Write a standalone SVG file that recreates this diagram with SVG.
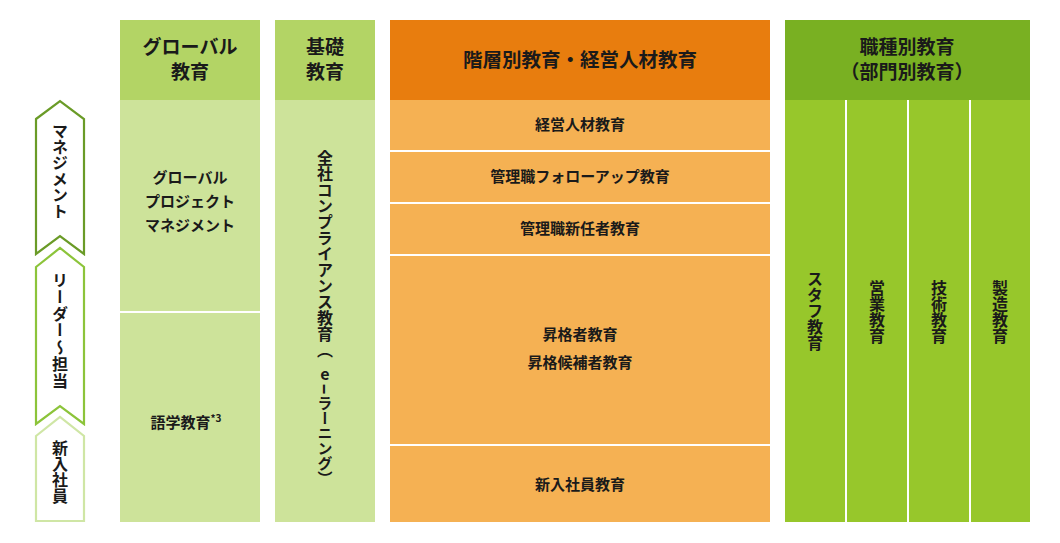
<svg xmlns="http://www.w3.org/2000/svg" width="1060" height="543" viewBox="0 0 1060 543">
<style>
text{font-family:"Noto Sans CJK JP","Noto Sans",sans-serif;fill:#1a1a1a}
.h{font-size:19px;font-weight:700;text-anchor:middle}
.b{font-size:15px;font-weight:700;text-anchor:middle}
.v{font-size:16px;font-weight:700;writing-mode:vertical-rl;text-orientation:upright;text-anchor:start}
.gh{fill:#b3d465}.gb{fill:#cde39a}
.oh{fill:#e87d0e}.ob{fill:#f5b153}
.ph{fill:#79b022}.pb{fill:#97c72b}
.sep{stroke:#fff;stroke-width:2}
.arr{fill:#fff;stroke-width:2.2}
</style>
<rect width="1060" height="543" fill="#fff"/>
<g id="levels">
<g id="lvl-management">
<polygon class="arr" stroke="#6a9b27" points="36,119 60,101 84,119 84,254 60,236 36,254"/>
<text class="v" x="60" y="123">マネジメント</text>
</g>
<g id="lvl-leader">
<polygon class="arr" stroke="#8cc43a" points="36,267 60,248 84,267 84,424 60,406 36,424"/>
<text class="v" x="60" y="272" style="letter-spacing:0.8px">リーダー～担当</text>
</g>
<g id="lvl-new">
<polygon class="arr" stroke="#cfe6a5" points="36,436 60,417 84,436 84,521 36,521"/>
<text class="v" x="60" y="440">新入社員</text>
</g>
</g>
<g id="global">
<rect class="gh" x="120" y="20" width="140" height="80"/>
<rect class="gb" x="120" y="100" width="140" height="422"/>
<line class="sep" x1="120" y1="312" x2="260" y2="312"/>
<text class="h" x="190" y="54"><tspan x="190">グローバル</tspan><tspan x="190" dy="25">教育</tspan></text>
<text class="b" x="190" y="183"><tspan x="190">グローバル</tspan><tspan x="190" dy="24">プロジェクト</tspan><tspan x="190" dy="24">マネジメント</tspan></text>
<text class="b" x="186" y="428">語学教育<tspan font-size="10" dy="-6">*3</tspan></text>
</g>
<g id="basic">
<rect class="gh" x="275" y="20" width="100" height="80"/>
<rect class="gb" x="275" y="100" width="100" height="422"/>
<text class="h" x="325" y="54"><tspan x="325">基礎</tspan><tspan x="325" dy="25">教育</tspan></text>
<text class="v" x="325" y="150">全社コンプライアンス教育（</text>
<text class="b" x="325" y="380" style="font-size:16px">e</text>
<text class="b" transform="translate(325,389) rotate(90) scale(2.2,1.3)" style="font-size:15px" dy="5">-</text>
<text class="v" x="325" y="396" style="font-size:15px">ラーニング）</text>
</g>
<g id="hierarchy">
<rect class="oh" x="390" y="20" width="380" height="80"/>
<rect class="ob" x="390" y="100" width="380" height="422"/>
<line class="sep" x1="390" y1="151" x2="770" y2="151"/>
<line class="sep" x1="390" y1="203" x2="770" y2="203"/>
<line class="sep" x1="390" y1="255" x2="770" y2="255"/>
<line class="sep" x1="390" y1="445" x2="770" y2="445"/>
<text class="h" x="580" y="67" style="font-size:19.5px">階層別教育・経営人材教育</text>
<text class="b" x="580" y="130">経営人材教育</text>
<text class="b" x="580" y="182">管理職フォローアップ教育</text>
<text class="b" x="580" y="234">管理職新任者教育</text>
<text class="b" x="580" y="340"><tspan x="580">昇格者教育</tspan><tspan x="580" dy="28">昇格候補者教育</tspan></text>
<text class="b" x="580" y="490">新入社員教育</text>
</g>
<g id="job">
<rect class="ph" x="785" y="20" width="245" height="80"/>
<rect class="pb" x="785" y="100" width="245" height="422"/>
<line class="sep" x1="846" y1="100" x2="846" y2="522"/>
<line class="sep" x1="908" y1="100" x2="908" y2="522"/>
<line class="sep" x1="970" y1="100" x2="970" y2="522"/>
<text class="h" x="907" y="54"><tspan x="907">職種別教育</tspan><tspan x="907" dy="25">（部門別教育）</tspan></text>
<text class="v" x="815" y="271">スタフ教育</text>
<text class="v" x="877" y="280">営業教育</text>
<text class="v" x="939" y="280">技術教育</text>
<text class="v" x="1000" y="280">製造教育</text>
</g>
<g id="connectors"></g>
</svg>
